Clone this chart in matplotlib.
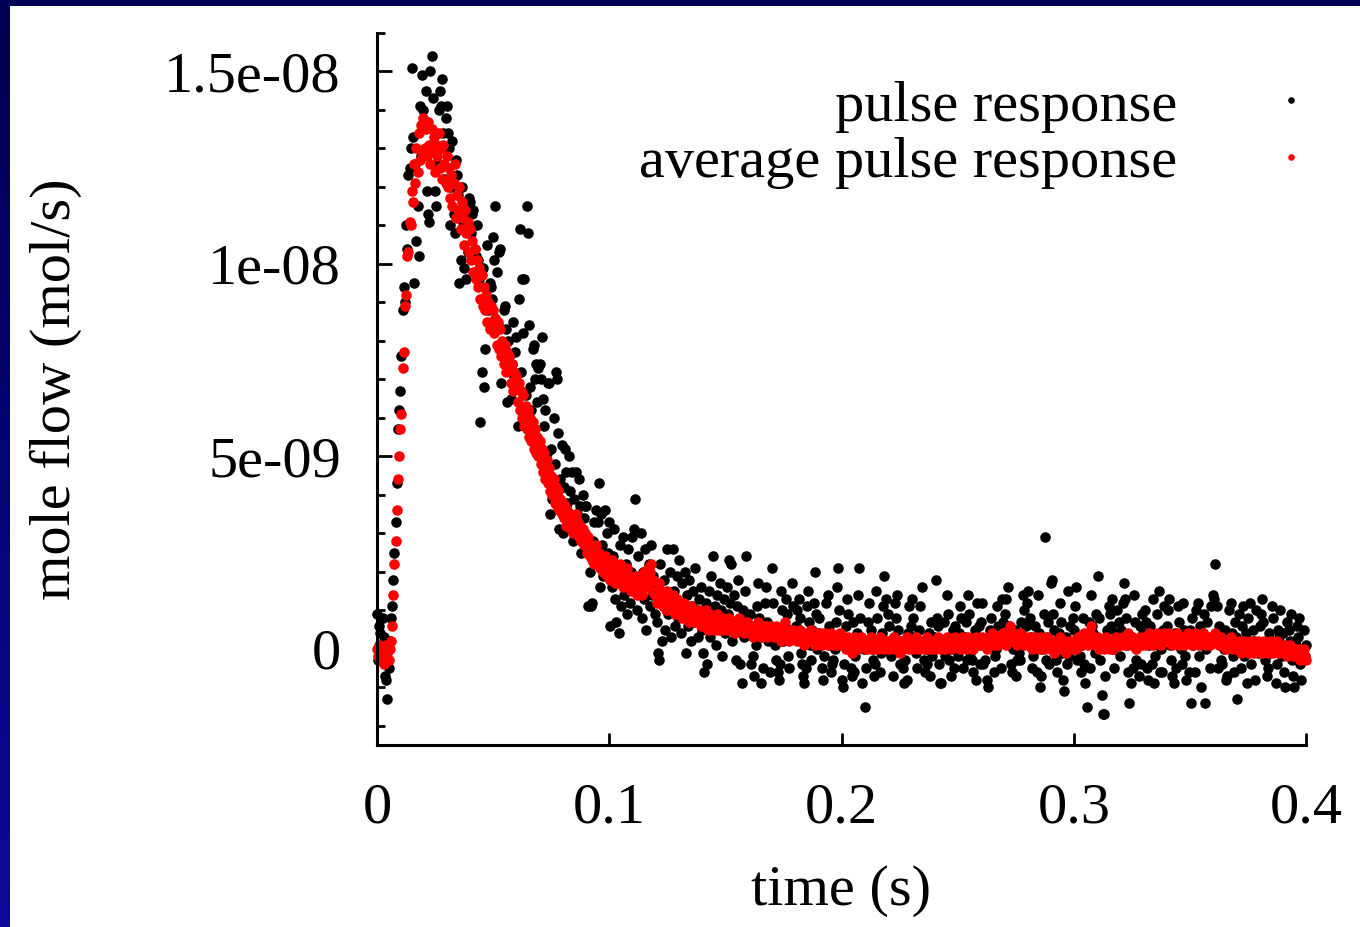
import numpy as np
import matplotlib as mpl
import matplotlib.pyplot as plt
from matplotlib.colors import LinearSegmentedColormap
from matplotlib.ticker import MultipleLocator, FormatStrFormatter

mpl.use('Agg')

# sampling interval of the recorded signal (s)
SAMPLE_DT = 0.0005
# values below are in units of 1e-10 mol/s, one value per sample
UNIT = 1e-10

pulse = [
    9, -3, 6, 4, -2, 8, 3, -7, -8, -13, -5, 2, 8, 11, 18, 25, 33, 43, 57, 62,
    67, 76, 88, 94, 90, 110, 104, 123, 125, 130, 151, 133, 95, 126, 106, 115, 102, 141, 128, 149,
    140, 136, 145, 119, 113, 111, 150, 154, 143, 129, 119, 115, 126, 140, 145, 141, 148, 134, 122, 138,
    141, 134, 130, 110, 120, 132, 113, 108, 127, 123, 118, 95, 101, 120, 111, 99, 112, 96, 103, 117,
    116, 108, 113, 114, 104, 102, 110, 101, 96, 59, 72, 99, 68, 78, 90, 105, 88, 95, 94, 91,
    107, 101, 115, 98, 84, 103, 104, 69, 78, 88, 89, 83, 64, 80, 76, 65, 74, 85, 71, 77,
    81, 58, 91, 109, 72, 96, 82, 96, 66, 115, 108, 84, 68, 62, 78, 79, 70, 74, 64, 73,
    74, 70, 81, 65, 58, 62, 51, 69, 69, 35, 52, 39, 60, 48, 72, 70, 56, 31, 44, 53,
    30, 42, 52, 46, 38, 50, 41, 33, 46, 28, 39, 46, 35, 31, 44, 37, 25, 40, 34, 37,
    37, 29, 11, 20, 11, 12, 28, 33, 24, 36, 33, 43, 16, 35, 27, 19, 36, 22, 30, 25,
    33, 6, 16, 24, 31, 13, 7, 21, 4, 27, 11, 18, 29, 14, 22, 9, 26, 17, 12, 20,
    29, 31, 39, 18, 10, 24, 15, 30, 8, 20, 13, 26, 5, 17, 22, 11, 27, 14, 19, 9,
    16, 7, -1, -3, 22, 2, 12, 18, 5, 14, 26, 9, 20, 3, 11, 26, 15, 6, 19, 8,
    23, 12, 4, 17, 9, 20, -1, 14, 6, 18, 2, 11, 15, 7, 21, 10, 3, 13, 8, 16,
    5, -1, -6, 12, -4, 9, 15, 3, 19, 24, 7, 11, 1, 14, 6, 17, 10, -2, 8, 13,
    4, 16, 9, 23, 12, 22, 2, 14, 7, -3, 11, 18, 5, -4, -9, 10, 3, 15, 24, 8,
    6, 9, -4, 4, -2, -7, 1, 11, 17, 8, 3, -9, -5, 5, 12, 16, 7, 2, -6, 4,
    21, 12, 5, 1, -3, -6, -8, -4, 15, 10, 2, 6, 13, 9, -2, -5, 3, 17, 11, 5,
    3, 6, 10, 13, 8, -1, -4, -7, -9, -5, 11, 15, 7, 1, -3, 5, 12, 20, 9, 0,
    4, 8, 2, -5, -8, -2, 3, 12, 14, 6, 1, -6, -4, -3, 0, 7, 16, 21, 10, 2,
    -8, -10, -4, 2, 6, 13, 9, 1, -5, -7, 7, -6, -2, 4, 14, 21, 8, 3, -9, 0,
    -15, -5, 2, 7, 12, 5, 0, -3, -7, -4, 15, 8, 2, -6, -1, 4, 11, 19, 13, 1,
    9, 6, 1, -2, -7, 3, 12, 8, 14, 5, -4, 0, 2, -5, -9, -3, -8, 4, 11, 2,
    6, 13, 8, 3, -1, -5, 1, 5, 11, 16, 2, -3, -6, 0, -4, 4, -7, 7, -2, 3,
    3, 18, 8, 6, -4, -9, -9, 1, 7, -2, 2, 14, 9, -3, -7, 0, 5, -5, 6, 1,
    -2, 4, 11, 8, 1, -5, 3, 7, -3, 14, 9, -1, -3, -6, 2, 5, -8, 12, 6, -4,
    7, 12, -4, 1, -3, -8, -10, 2, 5, 8, 4, -6, -2, 0, 11, 6, 3, -5, 13, 7,
    2, 9, 13, 16, 6, 1, -4, -6, 0, 5, -7, -3, 4, -1, -3, 7, 14, 10, 2, 6,
    12, 15, 8, 3, -5, -2, 1, 6, -6, 14, 4, -10, -7, 0, 9, 29, -3, 3, 7, -4,
    17, 18, 9, 5, 2, -3, -6, 4, 12, 7, -1, -8, -11, 3, -4, 15, -2, 6, 1, 8,
    5, 11, 16, -3, 3, -2, -6, 1, 8, -4, -9, -15, 2, 7, -5, 14, 6, 4, -1, 9,
    3, 19, 8, -3, -12, -17, -17, -7, 2, 5, 11, 9, 6, 13, 0, -5, 4, 10, 1, 7,
    -2, 5, 12, 17, 13, 8, 1, -6, -14, -9, 3, -5, 14, 7, -3, 2, -7, 6, -4, 9,
    4, 10, 7, -5, -8, 1, 6, -4, 13, -9, -2, 3, 9, 15, -6, 0, -6, 5, 11, 2,
    6, 10, 13, 1, -3, -7, -9, 4, -5, 3, 11, 7, 0, -4, 12, 5, -2, -8, 2, -6,
    5, -14, 8, 1, -6, 10, 3, 12, -2, 6, -10, 4, 9, -14, 0, 7, 2, -5, 11, 3,
    14, 13, 22, 11, -5, 6, 1, -3, -4, 0, 5, -8, -7, 2, 10, 12, 4, -2, -6, 7,
    3, -13, 9, 1, -5, 6, 11, -2, 4, -9, 8, 0, 12, -4, 5, 2, -8, 10, 1, -1,
    6, 9, 13, 7, 1, -3, -7, -5, 4, -1, 2, 11, 8, 0, -9, -4, 5, 3, 10, -2,
    4, -6, -10, 0, 7, 5, 2, 9, -3, -7, -10, 1, 6, 3, 8, -4, -8, 0, 5, -2,
    1,
]

average = [
    0, -2, 1, -3, -1, 0, -4, -2, 1, -1, -3, 0, 2, 6, 14, 22, 28, 36, 44, 50,
    57, 61, 73, 77, 89, 92, 102, 103, 111, 110, 119, 116, 126, 121, 130, 124, 134, 127, 136, 129,
    138, 130, 135, 128, 137, 131, 126, 135, 129, 133, 124, 131, 128, 134, 125, 130, 122, 131, 126, 121,
    128, 120, 125, 117, 123, 115, 121, 126, 112, 118, 114, 120, 109, 116, 112, 105, 114, 108, 111, 103,
    109, 101, 106, 98, 104, 96, 101, 94, 99, 91, 97, 89, 94, 88, 92, 85, 90, 83, 89, 84,
    88, 82, 86, 79, 85, 78, 83, 76, 80, 74, 79, 72, 77, 73, 76, 69, 74, 67, 72, 70,
    71, 64, 69, 62, 67, 60, 66, 58, 63, 57, 62, 55, 60, 54, 59, 52, 57, 51, 55, 50,
    54, 48, 52, 46, 51, 44, 49, 43, 47, 41, 45, 40, 44, 38, 42, 37, 41, 36, 39, 35,
    38, 34, 37, 32, 36, 33, 35, 31, 34, 30, 33, 35, 30, 33, 29, 32, 28, 31, 27, 30,
    28, 25, 29, 24, 27, 23, 26, 22, 25, 27, 22, 25, 21, 24, 23, 20, 24, 21, 19, 23,
    21, 18, 23, 19, 22, 17, 20, 21, 18, 22, 17, 20, 16, 19, 18, 21, 16, 19, 17, 15,
    18, 15, 17, 19, 14, 17, 15, 19, 14, 18, 20, 16, 19, 21, 17, 20, 22, 15, 18, 14,
    15, 12, 14, 17, 12, 15, 11, 14, 13, 10, 15, 11, 13, 10, 12, 14, 11, 9, 13, 10,
    12, 9, 11, 8, 12, 10, 8, 11, 9, 7, 11, 8, 10, 7, 10, 8, 7, 10, 8, 6,
    9, 7, 6, 10, 7, 5, 9, 6, 8, 6, 5, 8, 6, 9, 5, 8, 6, 5, 8, 6,
    6, 7, 5, 8, 6, 5, 7, 6, 4, 7, 5, 6, 8, 5, 7, 6, 4, 6, 5, 7,
    5, 4, 6, 5, 3, 6, 4, 5, 7, 4, 5, 3, 6, 4, 5, 6, 3, 5, 4, 6,
    4, 5, 3, 4, 6, 3, 5, 4, 2, 5, 4, 7, 3, 5, 4, 2, 4, 3, 5, 3,
    3, 4, 2, 3, 5, 2, 4, 3, 1, 4, 3, 2, 4, 3, 5, 2, 3, 1, 4, 3,
    2, 3, 4, 1, 3, 2, 4, 2, 1, 3, 2, 4, 3, 1, 2, 3, 1, 3, 2, 4,
    2, 1, 3, 2, 0, 2, 3, 1, 2, -1, 2, 1, 3, 2, 0, 2, 1, 3, 1, 2,
    1, 2, 0, 2, 1, 3, 1, 0, 2, 1, 2, 0, 1, 3, 1, 2, 0, 1, 2, 1,
    2, 0, 1, 2, 1, 3, 0, 1, 2, 1, -1, 2, 1, 0, 2, 1, 3, 1, 0, 2,
    1, 2, 0, 1, 3, 1, 2, 0, 1, 2, 1, 0, 2, 1, 3, 2, 0, 1, 2, 1,
    0, 2, 1, 3, 1, 0, 2, 1, 2, 0, 1, 3, 2, 1, 0, 2, 1, 2, 3, 1,
    2, 1, 0, 2, 3, 1, 2, 0, 1, 3, 2, 1, 2, 0, 2, 1, 3, 2, 1, 2,
    1, 3, 2, 1, 2, 0, 2, 3, 1, 2, 4, 2, 1, 3, 2, 1, 2, 3, 2, 4,
    2, 3, 1, 2, 4, 6, 3, 2, 4, 3, 2, 1, 3, 2, 4, 2, 3, 1, 2, 3,
    2, 1, 3, 2, 0, 2, 1, 3, 2, 1, 0, 2, 3, 1, 2, 0, 1, 3, 2, 1,
    0, 2, 1, -1, 1, 2, 0, 1, 3, 1, 0, 2, 1, -1, 1, 2, 0, 1, 2, 0,
    1, 2, 0, 1, 3, 2, 1, 3, 2, 4, 2, 3, 1, 2, 4, 6, 3, 2, 1, 2,
    1, 3, 0, 2, 1, 2, 0, 1, 3, 1, 2, 0, 1, 2, 0, 1, 3, 2, 1, 2,
    2, 1, 3, 2, 1, 3, 2, 4, 2, 1, 3, 2, 1, 2, 0, 2, 1, 3, 2, 1,
    2, 3, 1, 3, 2, 4, 2, 3, 1, 2, 3, 2, 4, 3, 2, 1, 3, 2, 4, 2,
    3, 2, 4, 2, 3, 1, 2, 3, 2, 4, 3, 1, 2, 3, 2, 1, 3, 2, 4, 3,
    2, 3, 1, 2, 4, 2, 3, 2, 1, 3, 2, 4, 3, 2, 1, 2, 3, 1, 2, 3,
    2, 3, 4, 2, 3, 1, 2, 3, 2, 1, 2, 0, 1, 2, 1, 3, 1, 0, 2, 1,
    1, 0, 2, 1, -1, 1, 0, 2, 1, 0, 1, -1, 0, 2, 1, -1, 1, 0, 1, 2,
    0, 1, -1, 1, 2, 0, 1, -1, 0, 1, 2, 0, -1, 1, 0, 2, 0, -1, 1, 0,
    0, -1, 1, 0, -2, 0, 1, -1, 0, -2, -1, 0, -2, -1, 0, -3, -1, -2, 0, -2,
    -3,
]

labels = ['pulse response', 'average pulse response']

plt.rcParams['font.family'] = ['Liberation Serif', 'DejaVu Serif']

t = np.arange(len(pulse)) * SAMPLE_DT
y_pulse = np.array(pulse) * UNIT
y_avg = np.array(average) * UNIT

fig = plt.figure(figsize=(13.6, 9.27), dpi=100)
fig.patch.set_facecolor('white')

# dark blue slide border (left strip with gradient, top strip)
edge = fig.add_axes([0, 0, 10 / 1360, 1])
edge.imshow(np.linspace(0, 1, 200).reshape(-1, 1), aspect='auto', origin='lower',
            cmap=LinearSegmentedColormap.from_list('edge', ['#0a0a98', '#000050']))
edge.axis('off')
top = fig.add_axes([0, 1 - 6 / 927, 1, 6 / 927])
top.set_facecolor('#000055')
top.set_xticks([])
top.set_yticks([])
for s in top.spines.values():
    s.set_visible(False)

ax = fig.add_axes([377 / 1360, 1 - 745 / 927, 929 / 1360, 712 / 927])
ax.plot(t, y_pulse, 'o', color='black', ms=7.6, mew=0, label=labels[0], clip_on=False)
ax.plot(t, y_avg, 'o', color='#ff0000', ms=7.6, mew=0, label=labels[1], clip_on=False)

ax.set_xlim(0, 0.4)
ax.set_ylim(-2.5e-9, 1.6e-8)
ax.xaxis.set_major_locator(MultipleLocator(0.1))
ax.xaxis.set_major_formatter(FormatStrFormatter('%g'))
ax.yaxis.set_major_locator(MultipleLocator(5e-9))
ax.yaxis.set_minor_locator(MultipleLocator(1e-9))
ax.yaxis.set_major_formatter(FormatStrFormatter('%g'))

for side in ['top', 'right']:
    ax.spines[side].set_visible(False)
for side in ['left', 'bottom']:
    ax.spines[side].set_linewidth(2.2)

ax.tick_params(axis='both', which='both', direction='in', labelsize=42, width=2)
ax.tick_params(axis='y', which='major', length=11, pad=26)
ax.tick_params(axis='y', which='minor', length=6)
ax.tick_params(axis='x', which='major', length=9, pad=27)

ax.set_xlabel('time (s)', fontsize=42)
ax.set_ylabel('mole flow (mol/s)', fontsize=42)
ax.xaxis.set_label_coords(0.5, -0.168)
ax.yaxis.set_label_coords(-0.318, 0.5)

ax.legend(loc='upper right', bbox_to_anchor=(1349 / 1360, 1 - 80 / 927),
          bbox_transform=fig.transFigure, frameon=False, markerfirst=False,
          fontsize=42, markerscale=0.62, handlelength=2.0, handletextpad=0.94,
          labelspacing=0.06, borderpad=0, borderaxespad=0)

plt.savefig('out.png', dpi=100, facecolor=fig.get_facecolor())
